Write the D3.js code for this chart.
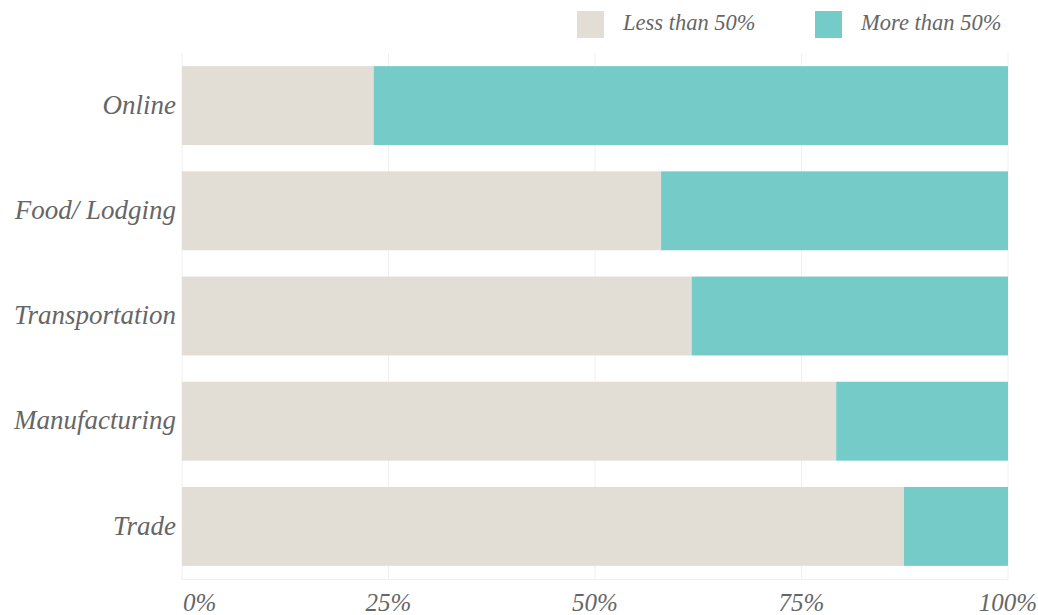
<!DOCTYPE html>
<html>
<head>
<meta charset="utf-8">
<script src="https://cdn.jsdelivr.net/npm/d3@7"></script>
<style>
  body { margin: 0; background: #fff; }
</style>
</head>
<body>
<div id="chart"></div>
<script>
// categories and values (share of firms, %)
var categories = ["Online", "Food/ Lodging", "Transportation", "Manufacturing", "Trade"];
var lessThan50 = [23.2, 58.0, 61.7, 79.2, 87.4];
var moreThan50 = [76.8, 42.0, 38.3, 20.8, 12.6];
var seriesNames = ["Less than 50%", "More than 50%"];
var colors = ["#e2ded6", "#74cbc8"];
var ticks = [0, 25, 50, 75, 100];

var FONT = "'Liberation Serif', 'Times New Roman', serif";
var W = 1038, H = 615;
var margin = {top: 53, right: 30, bottom: 36, left: 182};

var svg = d3.select("#chart").append("svg")
  .attr("width", W)
  .attr("height", H);

var x = d3.scaleLinear()
  .domain([0, 100])
  .range([margin.left, 1008]);

var y = d3.scaleBand()
  .domain(categories)
  .range([margin.top, H - margin.bottom])
  .paddingInner(0.25)
  .paddingOuter(0.125);

// grid lines
svg.append("g").selectAll("line")
  .data(ticks)
  .enter().append("line")
  .attr("x1", function(d) { return x(d); })
  .attr("x2", function(d) { return x(d); })
  .attr("y1", margin.top)
  .attr("y2", H - margin.bottom)
  .attr("stroke", "#f0f0f0")
  .attr("stroke-width", 1);

svg.append("line")
  .attr("x1", margin.left).attr("x2", x(100))
  .attr("y1", H - margin.bottom + 0.5).attr("y2", H - margin.bottom + 0.5)
  .attr("stroke", "#f0f0f0");

// stacked data
var rows = categories.map(function(c, i) {
  return {cat: c, less: lessThan50[i], more: moreThan50[i]};
});
var stack = d3.stack().keys(["less", "more"]);
var layers = stack(rows);

svg.append("g").selectAll("g")
  .data(layers)
  .enter().append("g")
  .attr("fill", function(d, i) { return colors[i]; })
  .selectAll("rect")
  .data(function(d) { return d; })
  .enter().append("rect")
  .attr("x", function(d) { return x(d[0]); })
  .attr("width", function(d) { return x(d[1]) - x(d[0]); })
  .attr("y", function(d) { return y(d.data.cat); })
  .attr("height", y.bandwidth());

function styleText(sel, size) {
  sel.style("font-family", FONT)
    .style("font-style", "italic")
    .style("font-size", size + "px")
    .attr("fill", "#666");
}

// y labels
svg.append("g").selectAll("text")
  .data(categories)
  .enter().append("text")
  .attr("x", 176)
  .attr("y", function(d) { return y(d) + y.bandwidth() / 2; })
  .attr("dy", "0.3em")
  .attr("text-anchor", "end")
  .call(styleText, 27)
  .text(function(d) { return d; });

// x tick labels
svg.append("g").selectAll("text")
  .data(ticks)
  .enter().append("text")
  .attr("x", function(d) { return d === 0 ? x(d) + 1 : x(d); })
  .attr("y", 611)
  .attr("text-anchor", function(d) { return d === 0 ? "start" : "middle"; })
  .call(styleText, 25)
  .text(function(d) { return d + "%"; });

// legend
var legendX = [577, 815];
var legend = svg.append("g").selectAll("g")
  .data(seriesNames)
  .enter().append("g")
  .attr("transform", function(d, i) { return "translate(" + legendX[i] + ",11)"; });

legend.append("rect")
  .attr("width", 27)
  .attr("height", 27)
  .attr("fill", function(d, i) { return colors[i]; });

legend.append("text")
  .attr("x", 46)
  .attr("y", 12)
  .attr("dy", "0.33em")
  .call(styleText, 22.5)
  .text(function(d) { return d; });
</script>
</body>
</html>
